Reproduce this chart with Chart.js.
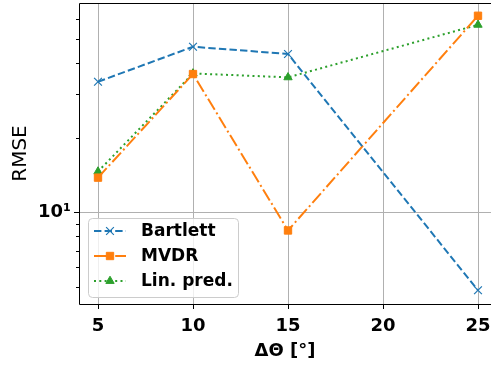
<!DOCTYPE html>
<html>
<head>
<meta charset="utf-8">
<script src="https://cdn.jsdelivr.net/npm/chart.js@4/dist/chart.umd.min.js"></script>
<style>
  html, body { margin: 0; padding: 0; background: #fff; overflow: hidden; }
  #chart { display: block; }
</style>
</head>
<body>
<canvas id="chart" width="491" height="369"></canvas>
<script>
// =====================================================
// DATA
// =====================================================
const deltaTheta = [5, 10, 15, 25];          // ΔΘ in degrees
const bartlett   = [33.6, 46.5, 43.5, 4.85];
const mvdr       = [13.8, 36.1, 8.45, 62];
const linPred    = [14.6, 36.3, 35.0, 57];

const xTicks      = [5, 10, 15, 20, 25];
const yMajorTicks = [10];
const yMinorTicks = [5, 6, 7, 8, 9, 20, 30, 40, 50, 60];

const BLUE = '#1f77b4', ORANGE = '#ff7f0e', GREEN = '#2ca02c';

// turn x/y arrays into points
const toPoints = ys => deltaTheta.map((x, i) => ({ x: x, y: ys[i] }));

const seriesStyle = [
  { label: 'Bartlett',   data: bartlett, color: BLUE,   dash: [7.4, 3.2],           point: 'crossRot', radius: 5.5, pbw: 1.2 },
  { label: 'MVDR',       data: mvdr,     color: ORANGE, dash: [12.8, 3.2, 2, 3.2],  point: 'rect',     radius: 5.2, pbw: 1 },
  { label: 'Lin. pred.', data: linPred,  color: GREEN,  dash: [2, 3.3],             point: 'triangle', radius: 4.8, pbw: 1 }
];

// =====================================================
// PLUGINS: frame, tick marks, legend box
// =====================================================
// the axes box runs past the right edge of the picture, so no right spine
const framePlugin = {
  id: 'frame',
  afterDatasetsDraw(chart) {
    const { ctx, chartArea: a, scales } = chart;
    ctx.save();
    ctx.strokeStyle = '#000';
    ctx.lineWidth = 1;
    ctx.setLineDash([]);
    ctx.beginPath();
    ctx.moveTo(a.right + 2, a.top + 0.5);
    ctx.lineTo(a.left + 0.5, a.top + 0.5);
    ctx.lineTo(a.left + 0.5, a.bottom + 0.5);
    ctx.lineTo(a.right + 2, a.bottom + 0.5);

    // y tick marks (major long, minor short)
    yMajorTicks.forEach(v => {
      const y = Math.round(scales.y.getPixelForValue(v)) + 0.5;
      ctx.moveTo(a.left - 5, y); ctx.lineTo(a.left, y);
    });
    yMinorTicks.forEach(v => {
      const y = Math.round(scales.y.getPixelForValue(v)) + 0.5;
      ctx.moveTo(a.left - 3, y); ctx.lineTo(a.left, y);
    });
    // x tick marks
    xTicks.forEach(v => {
      const x = Math.round(scales.x.getPixelForValue(v)) + 0.5;
      ctx.moveTo(x, a.bottom); ctx.lineTo(x, a.bottom + 5);
    });
    ctx.stroke();
    ctx.restore();
  }
};

const legendPlugin = {
  id: 'boxLegend',
  afterDraw(chart) {
    const ctx = chart.ctx;
    const bx = 88, by = 218, bw = 150, bh = 79;
    ctx.save();
    ctx.beginPath();
    ctx.roundRect(bx + 0.5, by + 0.5, bw, bh, 4);
    ctx.fillStyle = 'rgba(255,255,255,0.8)';
    ctx.fill();
    ctx.strokeStyle = '#cccccc';
    ctx.lineWidth = 1;
    ctx.stroke();

    const rows = [231, 256, 281];
    seriesStyle.forEach((s, i) => {
      const y = rows[i];
      ctx.beginPath();
      ctx.setLineDash(s.dash);
      ctx.strokeStyle = s.color;
      ctx.lineWidth = 2;
      ctx.moveTo(94, y); ctx.lineTo(126, y);
      ctx.stroke();
      ctx.setLineDash([]);
      ctx.fillStyle = s.color;
      ctx.strokeStyle = s.color;
      ctx.lineWidth = s.pbw;
      Chart.helpers.drawPoint(ctx, { pointStyle: s.point, radius: s.radius, rotation: 0, borderWidth: s.pbw }, 110, y);
      ctx.fillStyle = '#000';
      ctx.font = 'bold 17px "DejaVu Sans"';
      ctx.textBaseline = 'middle';
      ctx.textAlign = 'left';
      ctx.fillText(s.label, 141, y + 1);
    });
    ctx.restore();
  }
};

// =====================================================
// CHART
// =====================================================
new Chart(document.getElementById('chart'), {
  type: 'line',
  data: {
    datasets: seriesStyle.map(s => ({
      label: s.label,
      data: toPoints(s.data),
      borderColor: s.color,
      backgroundColor: s.color,
      borderWidth: 2,
      borderDash: s.dash,
      pointStyle: s.point,
      pointRadius: s.radius,
      pointBorderWidth: s.pbw,
      pointBackgroundColor: s.color,
      pointBorderColor: s.color,
      tension: 0,
      fill: false,
      clip: false
    }))
  },
  options: {
    responsive: false,
    animation: false,
    devicePixelRatio: 1,
    layout: { autoPadding: false, padding: { top: 3, right: 0, left: 0, bottom: 0 } },
    plugins: {
      legend: { display: false },
      tooltip: { enabled: false }
    },
    scales: {
      x: {
        type: 'linear',
        min: 4,
        max: 25.684,   // axes continue past the picture edge (matplotlib xlim 4..26)
        afterBuildTicks: axis => { axis.ticks = xTicks.map(v => ({ value: v })); },
        afterFit: axis => { axis.height = 65; axis.paddingLeft = 0; axis.paddingRight = 0; },
        border: { display: false },
        grid: { color: '#b0b0b0', lineWidth: 1, drawTicks: false },
        ticks: {
          color: '#000',
          padding: 12,
          maxRotation: 0,
          font: { family: 'DejaVu Sans', size: 18, weight: 'bold' }
        },
        title: {
          display: true,
          text: 'ΔΘ [°]',
          color: '#000',
          font: { family: 'DejaVu Sans', size: 18, weight: 'bold' },
          padding: { top: 0, bottom: 7 }
        }
      },
      y: {
        type: 'logarithmic',
        min: 4.27,
        max: 69.8,
        afterBuildTicks: axis => {
          axis.ticks = yMinorTicks.concat(yMajorTicks).sort((a, b) => a - b).map(v => ({ value: v }));
        },
        afterFit: axis => { axis.width = 79; axis.paddingTop = 0; axis.paddingBottom = 0; },
        border: { display: false },
        grid: {
          drawTicks: false,
          lineWidth: 1,
          color: c => (c.tick && yMajorTicks.includes(c.tick.value)) ? '#b0b0b0' : 'rgba(0,0,0,0)'
        },
        ticks: {
          color: '#000',
          padding: 8,
          autoSkip: false,
          font: { family: 'DejaVu Sans', size: 18, weight: 'bold' },
          callback: v => v === 10 ? '10¹' : ''
        },
        title: {
          display: true,
          text: 'RMSE',
          color: '#000',
          font: { family: 'DejaVu Sans', size: 20 },
          padding: { top: 9, bottom: 0 }
        }
      }
    }
  },
  plugins: [framePlugin, legendPlugin]
});
</script>
</body>
</html>
